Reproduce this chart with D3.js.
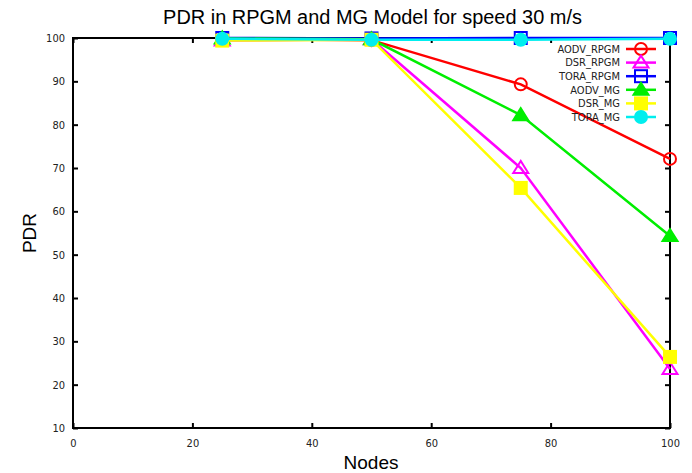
<!DOCTYPE html>
<html><head><meta charset="utf-8">
<script src="https://cdn.jsdelivr.net/npm/d3@7"></script>
<style>
html,body{margin:0;padding:0;background:#fff;}
svg{display:block;}
.tick text{font-family:"Liberation Sans Narrow","DejaVu Sans Condensed",sans-serif;font-size:11px;fill:#222;}
</style></head>
<body>
<svg id="c" width="692" height="473"></svg>
<script>
const nodes = [25, 50, 75, 100];
const aodvRpgm = [99.8, 99.5, 89.3, 72.1];
const dsrRpgm  = [99.4, 99.7, 70.0, 23.6];
const toraRpgm = [100, 99.9, 100, 100];
const aodvMg   = [99.9, 99.7, 82.2, 54.3];
const dsrMg    = [99.4, 99.6, 65.4, 26.4];
const toraMg   = [99.8, 99.6, 99.6, 99.8];
const seriesNames = ["AODV_RPGM","DSR_RPGM","TORA_RPGM","AODV_MG","DSR_MG","TORA_MG"];
const seriesColors = ["#ff0000","#ff00ff","#0000ff","#00ee00","#ffff00","#00eeee"];
const seriesMarkers = ["circleOpen","triOpen","squareOpen","triFill","squareFill","circleFill"];
const xTicks = [0,20,40,60,80,100];
const yTicks = [10,20,30,40,50,60,70,80,90,100];
const titleText = "PDR in RPGM and MG Model for speed 30 m/s";
const xLabel = "Nodes", yLabel = "PDR";
const allSeries = [aodvRpgm, dsrRpgm, toraRpgm, aodvMg, dsrMg, toraMg];

const svg = d3.select("#c");
const L=73, R=670, T=38, B=428;
const x = d3.scaleLinear().domain([0,100]).range([L,R]);
const y = d3.scaleLinear().domain([10,100]).range([B,T]);

// axes
const gl = svg.append("g").attr("transform",`translate(${L},0)`)
  .call(d3.axisLeft(y).tickValues(yTicks).tickSizeInner(-5).tickSizeOuter(0).tickPadding(8));
const gb = svg.append("g").attr("transform",`translate(0,${B})`)
  .call(d3.axisBottom(x).tickValues(xTicks).tickSizeInner(-5).tickSizeOuter(0).tickPadding(11));
const gt = svg.append("g").attr("transform",`translate(0,${T})`)
  .call(d3.axisTop(x).tickValues(xTicks).tickSizeInner(-5).tickSizeOuter(0).tickFormat(""));
const gr = svg.append("g").attr("transform",`translate(${R},0)`)
  .call(d3.axisRight(y).tickValues(yTicks).tickSizeInner(-5).tickSizeOuter(0).tickFormat(""));
[gl,gb,gt,gr].forEach(g=>{g.select(".domain").remove(); g.selectAll(".tick line").attr("stroke","#000").attr("stroke-width",2);});

svg.append("rect").attr("x",L).attr("y",T).attr("width",R-L).attr("height",B-T)
  .attr("fill","none").attr("stroke","#000").attr("stroke-width",2);

function marker(g, type, cx, cy, color){
  const s = 6;
  if(type==="circleOpen"||type==="circleFill"){
    g.append("circle").attr("cx",cx).attr("cy",cy).attr("r",s)
      .attr("fill", type==="circleFill"?color:"none").attr("stroke",color).attr("stroke-width",2);
  } else if(type==="triOpen"||type==="triFill"){
    const p = [[cx,cy-s-1],[cx-s-1.5,cy+s-1],[cx+s+1.5,cy+s-1]];
    g.append("path").attr("d","M"+p.join("L")+"Z")
      .attr("fill", type==="triFill"?color:"none").attr("stroke",color).attr("stroke-width",2);
  } else {
    g.append("rect").attr("x",cx-s).attr("y",cy-s).attr("width",2*s).attr("height",2*s)
      .attr("fill", type==="squareFill"?color:"none").attr("stroke",color).attr("stroke-width",2);
  }
}

const line = d3.line().x((d,i)=>x(nodes[i])).y(d=>y(d));
allSeries.forEach((vals,k)=>{
  const g = svg.append("g");
  g.append("path").attr("d",line(vals)).attr("fill","none")
    .attr("stroke",seriesColors[k]).attr("stroke-width",2.5);
  vals.forEach((v,i)=>marker(g, seriesMarkers[k], x(nodes[i]), y(v), seriesColors[k]));
});

// legend
const lg = svg.append("g");
seriesNames.forEach((n,k)=>{
  const yy = 49 + k*13.6;
  lg.append("text").attr("x",620).attr("y",yy).attr("dy","0.35em").attr("text-anchor","end")
    .attr("font-family",'"Liberation Sans Narrow","DejaVu Sans Condensed",sans-serif')
    .attr("font-size",11).attr("fill","#222").text(n);
  lg.append("line").attr("x1",626).attr("x2",656).attr("y1",yy).attr("y2",yy)
    .attr("stroke",seriesColors[k]).attr("stroke-width",2.5);
  marker(lg, seriesMarkers[k], 641, yy, seriesColors[k]);
});

// title & labels
const t = svg.append("text").attr("x",(163+582)/2).attr("y",24).attr("text-anchor","middle")
  .attr("font-family",'"Liberation Sans",Arial,sans-serif').attr("font-size",18).attr("fill","#000").text(titleText);
const w = t.node().getComputedTextLength();
t.attr("font-size", 18*419/w);
svg.append("text").attr("x",371).attr("y",469).attr("text-anchor","middle")
  .attr("font-family",'"Liberation Sans",Arial,sans-serif').attr("font-size",19).attr("fill","#000").text(xLabel);
svg.append("text").attr("transform","translate(36,233) rotate(-90)").attr("text-anchor","middle")
  .attr("font-family",'"Liberation Sans",Arial,sans-serif').attr("font-size",19).attr("fill","#000").text(yLabel);
</script>
</body></html>
